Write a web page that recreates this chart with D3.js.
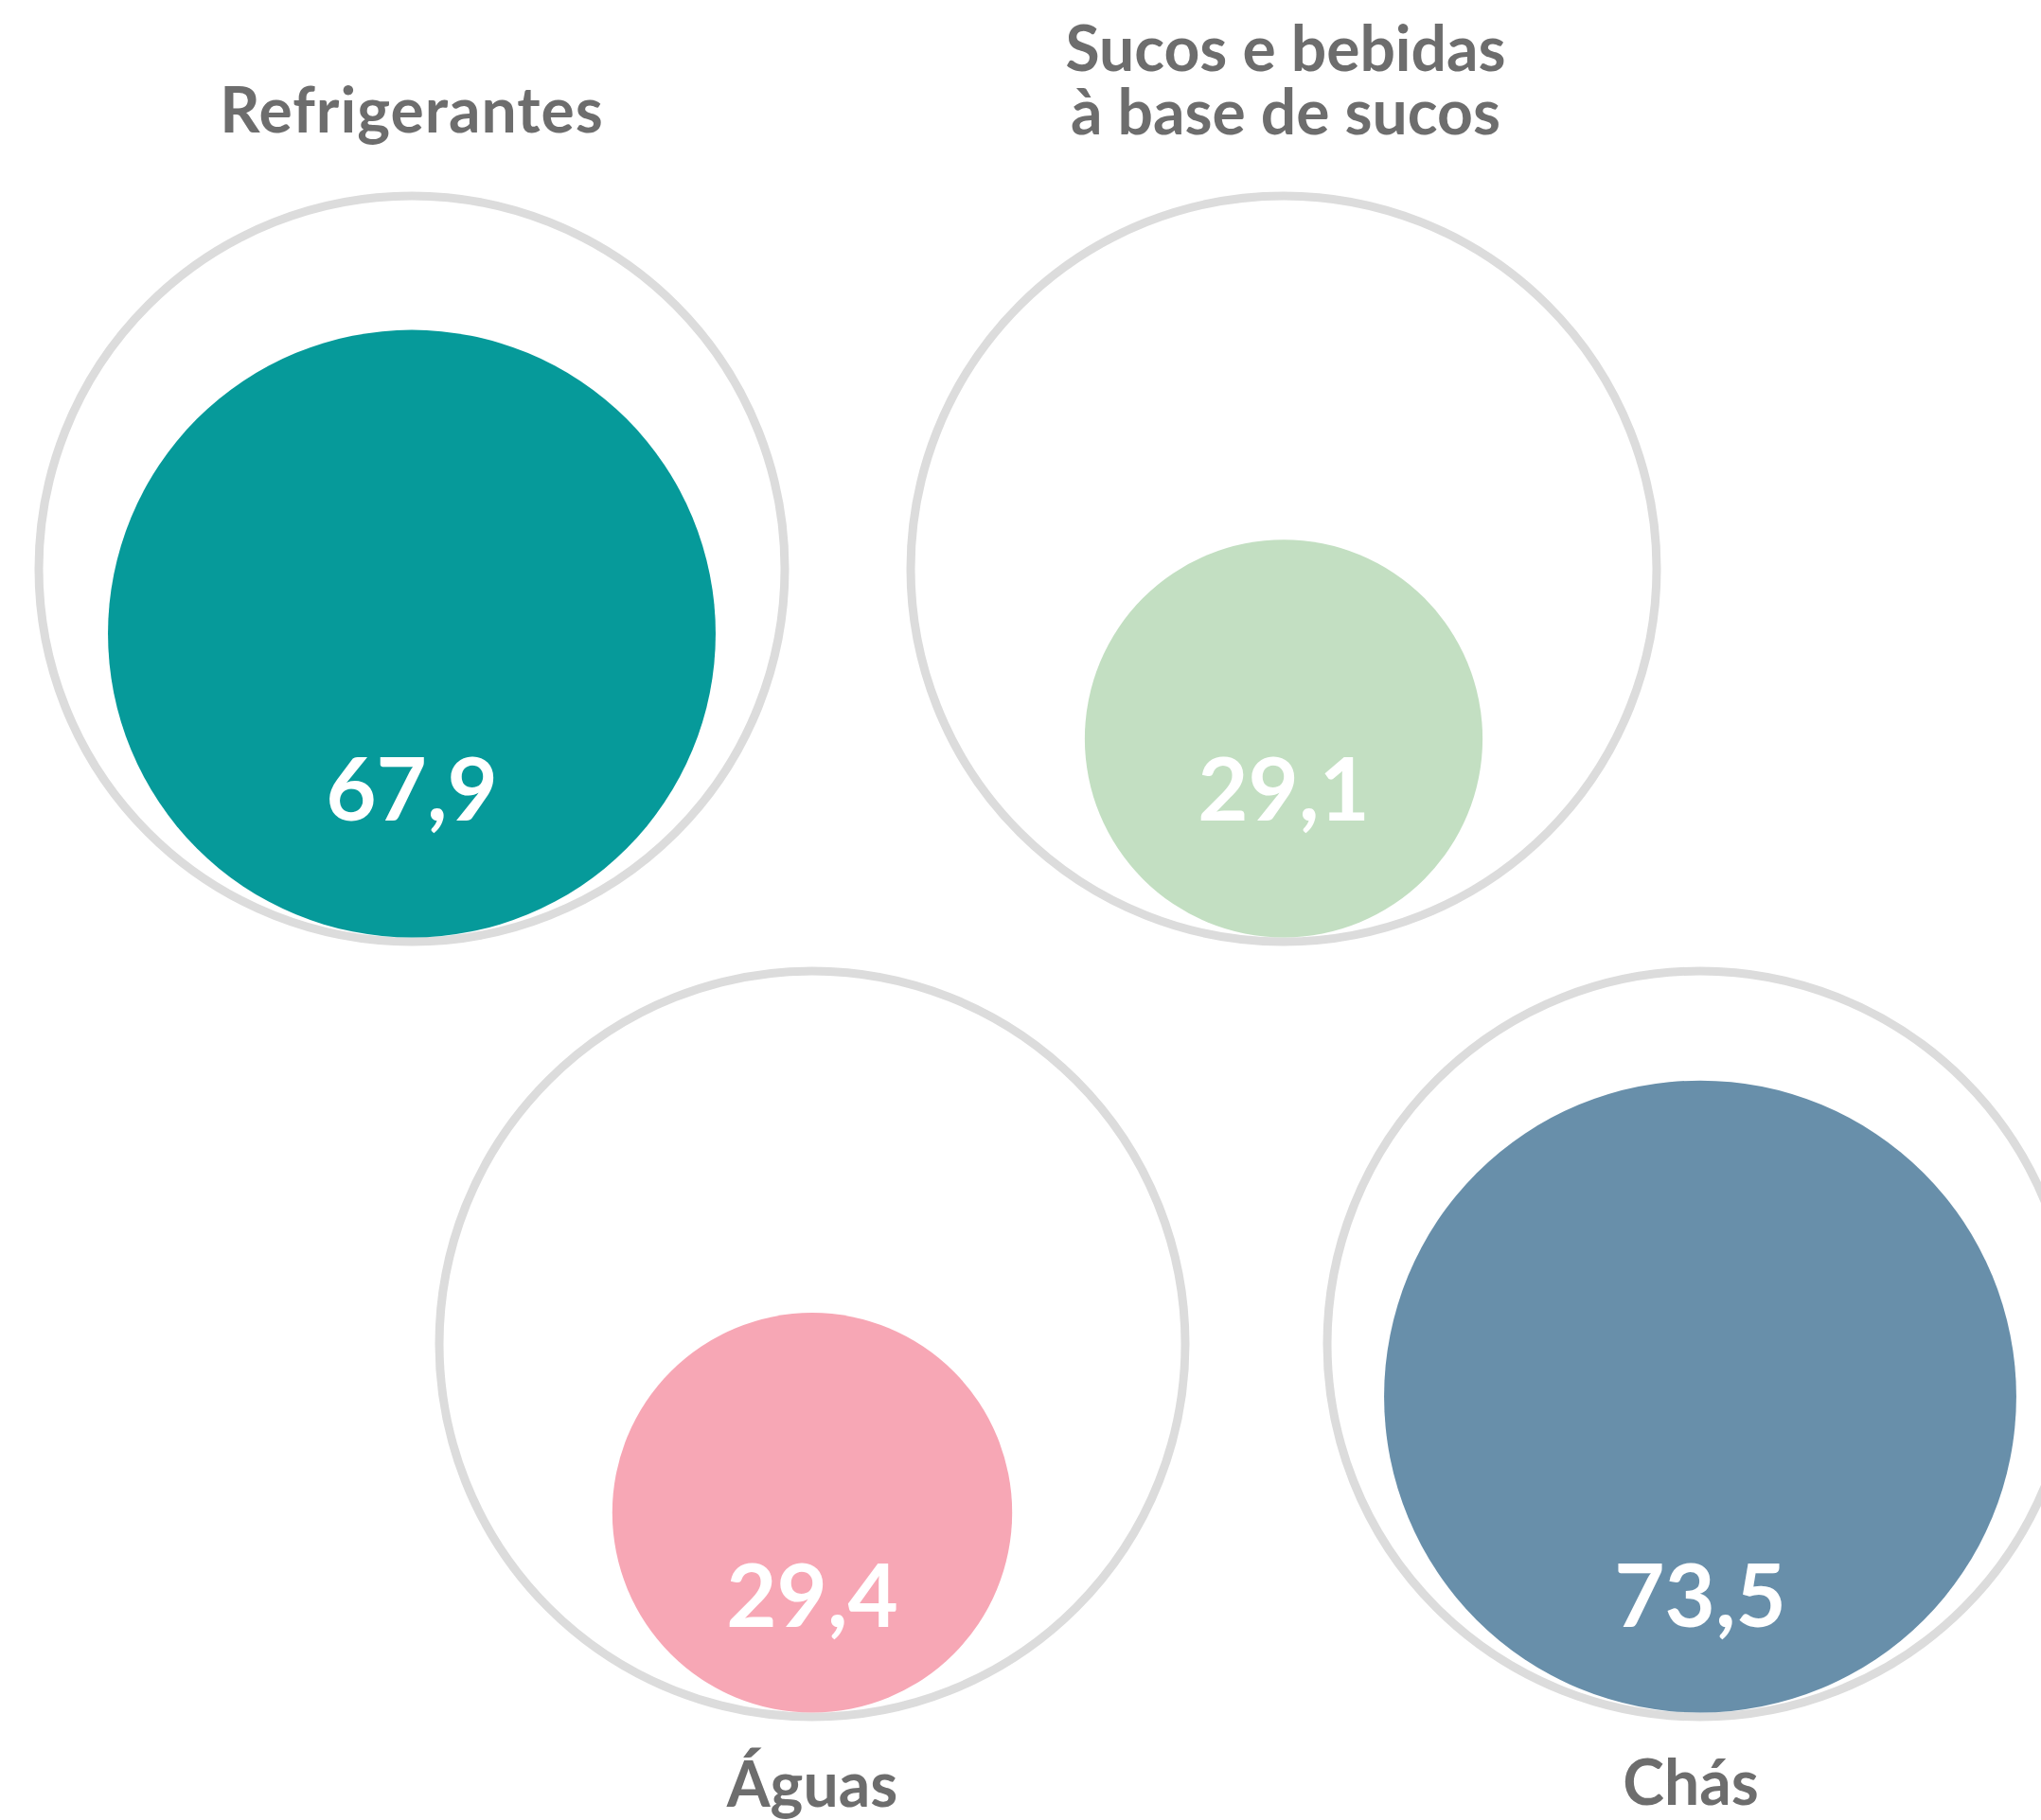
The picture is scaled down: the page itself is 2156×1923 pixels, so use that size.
<!DOCTYPE html>
<html>
<head>
<meta charset="utf-8">
<script src="https://cdn.jsdelivr.net/npm/d3@7"></script>
<style>
    html, body { margin: 0; padding: 0; background: #ffffff; overflow: hidden; }
    #chart { width: 2156px; height: 1923px; }
</style>
</head>
<body>
<div id="chart"></div>
<script>
var categories = ["Refrigerantes", "Sucos e bebidas|à base de sucos", "Águas", "Chás"];
var values = [67.9, 29.1, 29.4, 73.5];
var valueLabels = ["67,9", "29,1", "29,4", "73,5"];
var colors = ["#069a9a", "#c3dfc2", "#f7a7b5", "#688faa"];

var width = 2156, height = 1923;
var outerR = 394, strokeW = 9;
// grid slots: centre of each reference circle
var slots = [
    {x: 435, y: 601, labelX: 435, labelY: 140, numY: 867},
    {x: 1356, y: 601, labelX: 1358, labelY: 75, numY: 867},
    {x: 858, y: 1420, labelX: 858, labelY: 1909, numY: 1719},
    {x: 1796, y: 1420, labelX: 1786, labelY: 1907, numY: 1719}
];

var rScale = d3.scaleSqrt()
    .domain([0, 100])
    .range([0, outerR - strokeW / 2]);

var svg = d3.select("#chart").append("svg")
    .attr("width", width)
    .attr("height", height);

var groups = svg.selectAll("g.bubble")
    .data(categories.map(function (c, i) {
        return {name: c, value: values[i], label: valueLabels[i], color: colors[i], slot: slots[i]};
    }))
    .enter().append("g")
    .attr("class", "bubble");

// outer reference circle (100)
groups.append("circle")
    .attr("cx", function (d) { return d.slot.x; })
    .attr("cy", function (d) { return d.slot.y; })
    .attr("r", outerR)
    .attr("fill", "none")
    .attr("stroke", "#dcdcdc")
    .attr("stroke-width", strokeW);

// inner value circle, sitting on the bottom of the outer one
groups.append("circle")
    .attr("cx", function (d) { return d.slot.x; })
    .attr("cy", function (d) { return d.slot.y + outerR - strokeW / 2 - rScale(d.value); })
    .attr("r", function (d) { return rScale(d.value); })
    .attr("fill", function (d) { return d.color; });

groups.append("text")
    .attr("x", function (d) { return d.slot.x; })
    .attr("y", function (d) { return d.slot.numY; })
    .attr("text-anchor", "middle")
    .attr("font-family", "Lato, sans-serif")
    .attr("font-weight", "bold")
    .attr("font-size", 92)
    .attr("fill", "#ffffff")
    .text(function (d) { return d.label; });

// category names, one text per line
groups.each(function (d) {
    var g = d3.select(this);
    d.name.split("|").forEach(function (line, i) {
        g.append("text")
            .attr("x", d.slot.labelX)
            .attr("y", d.slot.labelY + i * 67)
            .attr("text-anchor", "middle")
            .attr("font-family", "Lato, sans-serif")
            .attr("font-weight", "bold")
            .attr("font-size", 66)
            .attr("letter-spacing", d.name === "Refrigerantes" ? 1 : 0)
            .attr("fill", "#6d6d6d")
            .text(line);
    });
});
</script>
</body>
</html>
